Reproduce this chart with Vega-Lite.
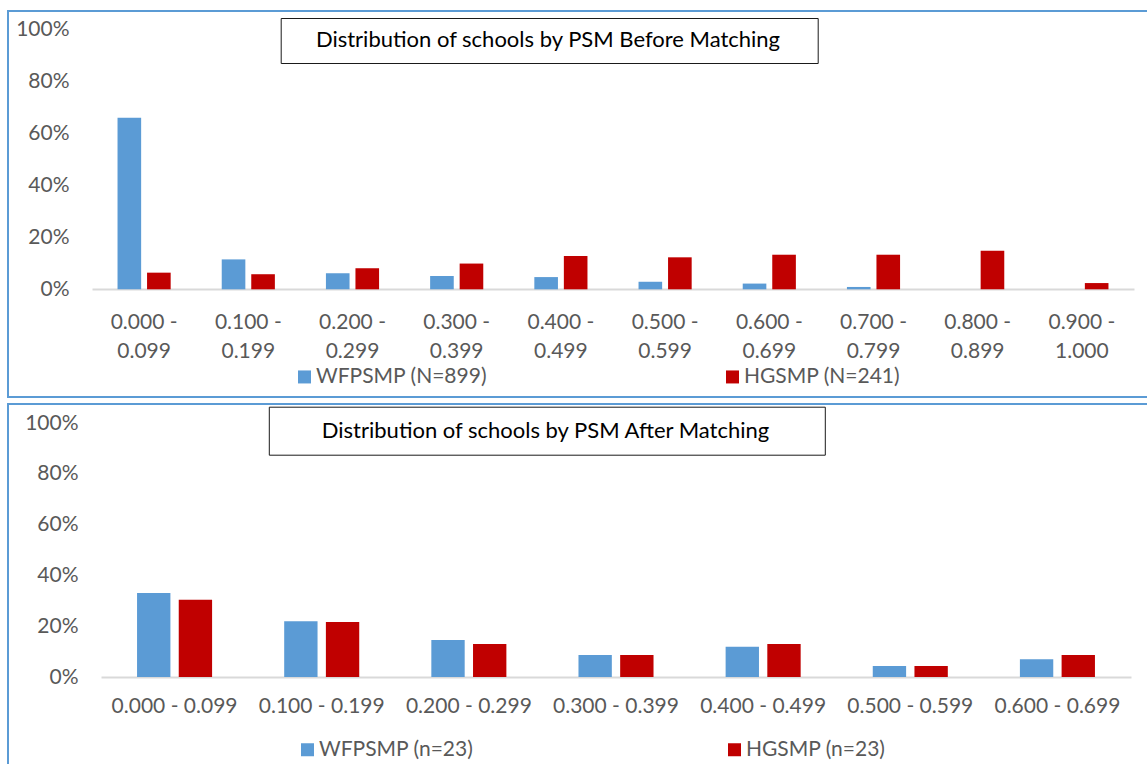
{
  "$schema": "https://vega.github.io/schema/vega-lite/v6.json",
  "padding": {"left": 7, "top": 10, "right": 0, "bottom": 0},
  "background": "white",
  "spacing": 5,
  "config": {
    "font": "Lato",
    "view": {"stroke": "#5b9bd5", "strokeWidth": 2},
    "axis": {"labelFont": "Lato", "labelColor": "#595959", "labelFontSize": 21, "ticks": false, "tickSize": 0, "grid": false, "title": null},
    "legend": {"labelFont": "Lato", "titleFont": "Lato"}
  },
  "resolve": {
    "scale": {"color": "independent", "strokeDash": "independent", "x": "independent", "y": "independent", "xOffset": "independent"},
    "legend": {"color": "independent", "strokeDash": "independent"}
  },
  "datasets": {
    "before": [
      {"range": "0.000 - 0.099", "series": "WFPSMP (N=899)", "share": 0.660},
      {"range": "0.000 - 0.099", "series": "HGSMP (N=241)", "share": 0.064},
      {"range": "0.100 - 0.199", "series": "WFPSMP (N=899)", "share": 0.115},
      {"range": "0.100 - 0.199", "series": "HGSMP (N=241)", "share": 0.058},
      {"range": "0.200 - 0.299", "series": "WFPSMP (N=899)", "share": 0.062},
      {"range": "0.200 - 0.299", "series": "HGSMP (N=241)", "share": 0.081},
      {"range": "0.300 - 0.399", "series": "WFPSMP (N=899)", "share": 0.051},
      {"range": "0.300 - 0.399", "series": "HGSMP (N=241)", "share": 0.099},
      {"range": "0.400 - 0.499", "series": "WFPSMP (N=899)", "share": 0.047},
      {"range": "0.400 - 0.499", "series": "HGSMP (N=241)", "share": 0.128},
      {"range": "0.500 - 0.599", "series": "WFPSMP (N=899)", "share": 0.029},
      {"range": "0.500 - 0.599", "series": "HGSMP (N=241)", "share": 0.123},
      {"range": "0.600 - 0.699", "series": "WFPSMP (N=899)", "share": 0.022},
      {"range": "0.600 - 0.699", "series": "HGSMP (N=241)", "share": 0.133},
      {"range": "0.700 - 0.799", "series": "WFPSMP (N=899)", "share": 0.009},
      {"range": "0.700 - 0.799", "series": "HGSMP (N=241)", "share": 0.133},
      {"range": "0.800 - 0.899", "series": "WFPSMP (N=899)", "share": 0.0},
      {"range": "0.800 - 0.899", "series": "HGSMP (N=241)", "share": 0.148},
      {"range": "0.900 - 1.000", "series": "WFPSMP (N=899)", "share": 0.0},
      {"range": "0.900 - 1.000", "series": "HGSMP (N=241)", "share": 0.024}
    ],
    "after": [
      {"range": "0.000 - 0.099", "series": "WFPSMP (n=23)", "share": 0.331},
      {"range": "0.000 - 0.099", "series": "HGSMP (n=23)", "share": 0.304},
      {"range": "0.100 - 0.199", "series": "WFPSMP (n=23)", "share": 0.219},
      {"range": "0.100 - 0.199", "series": "HGSMP (n=23)", "share": 0.217},
      {"range": "0.200 - 0.299", "series": "WFPSMP (n=23)", "share": 0.146},
      {"range": "0.200 - 0.299", "series": "HGSMP (n=23)", "share": 0.130},
      {"range": "0.300 - 0.399", "series": "WFPSMP (n=23)", "share": 0.087},
      {"range": "0.300 - 0.399", "series": "HGSMP (n=23)", "share": 0.087},
      {"range": "0.400 - 0.499", "series": "WFPSMP (n=23)", "share": 0.119},
      {"range": "0.400 - 0.499", "series": "HGSMP (n=23)", "share": 0.130},
      {"range": "0.500 - 0.599", "series": "WFPSMP (n=23)", "share": 0.043},
      {"range": "0.500 - 0.599", "series": "HGSMP (n=23)", "share": 0.043},
      {"range": "0.600 - 0.699", "series": "WFPSMP (n=23)", "share": 0.070},
      {"range": "0.600 - 0.699", "series": "HGSMP (n=23)", "share": 0.087}
    ]
  },
  "vconcat": [
    {
      "width": 1142,
      "height": 386,
      "data": {"name": "before"},
      "mark": {"type": "bar", "width": {"band": 1}},
      "encoding": {
        "x": {
          "field": "range", "type": "nominal", "sort": null,
          "scale": {"range": [84, 1126], "paddingInner": 0.49, "paddingOuter": 0.245},
          "axis": {"orient": "bottom", "offset": -108, "domainColor": "#d9d9d9", "domainWidth": 2, "labelAngle": 0, "labelPadding": 22, "labelLineHeight": 29, "labelExpr": "[slice(datum.label, 0, 7), slice(datum.label, 8)]"}
        },
        "xOffset": {
          "field": "series", "type": "nominal", "sort": ["WFPSMP (N=899)", "HGSMP (N=241)"],
          "scale": {"paddingInner": 0.2, "paddingOuter": 0}
        },
        "y": {
          "field": "share", "type": "quantitative",
          "scale": {"domain": [0, 1], "range": [278.3, 18.3], "nice": false},
          "axis": {"orient": "left", "offset": -66, "domain": false, "values": [0, 0.2, 0.4, 0.6, 0.8, 1], "format": ".0%", "labelPadding": 5}
        },
        "color": {
          "field": "series", "type": "nominal",
          "scale": {"domain": ["WFPSMP (N=899)", "HGSMP (N=241)"], "range": ["#5b9bd5", "#c00000"]},
          "legend": {"orient": "none", "legendX": 286, "legendY": 355.2, "direction": "horizontal", "title": null, "symbolType": "square", "symbolSize": 169, "symbolStrokeWidth": 0, "labelFontSize": 21, "labelColor": "#595959", "labelOffset": 1, "labelLimit": 400, "columnPadding": 234, "padding": 0}
        },
        "strokeDash": {
          "datum": "Distribution of schools by PSM Before Matching",
          "legend": {"orient": "none", "legendX": 272.7, "legendY": 7, "direction": "vertical", "title": "\u00a0", "titleOrient": "right", "titleFontSize": 1, "titlePadding": 24.8, "labelFontSize": 22, "labelColor": "#000000", "labelLimit": 1000, "labelOffset": 2, "symbolType": "square", "symbolSize": 4, "symbolOpacity": 0, "symbolStrokeWidth": 0, "padding": 11.2, "strokeColor": "#1a1a1a"}
        }
      }
    },
    {
      "width": 1142,
      "height": 363,
      "data": {"name": "after"},
      "mark": {"type": "bar", "width": {"band": 1}},
      "encoding": {
        "x": {
          "field": "range", "type": "nominal", "sort": null,
          "scale": {"range": [93, 1123], "paddingInner": 0.49, "paddingOuter": 0.245},
          "axis": {"orient": "bottom", "offset": -90, "domainColor": "#d9d9d9", "domainWidth": 2, "labelAngle": 0, "labelPadding": 18}
        },
        "xOffset": {
          "field": "series", "type": "nominal", "sort": ["WFPSMP (n=23)", "HGSMP (n=23)"],
          "scale": {"paddingInner": 0.2, "paddingOuter": 0}
        },
        "y": {
          "field": "share", "type": "quantitative",
          "scale": {"domain": [0, 1], "range": [273, 19], "nice": false},
          "axis": {"orient": "left", "offset": -75, "domain": false, "values": [0, 0.2, 0.4, 0.6, 0.8, 1], "format": ".0%", "labelPadding": 5}
        },
        "color": {
          "field": "series", "type": "nominal",
          "scale": {"domain": ["WFPSMP (n=23)", "HGSMP (n=23)"], "range": ["#5b9bd5", "#c00000"]},
          "legend": {"orient": "none", "legendX": 289, "legendY": 335, "direction": "horizontal", "title": null, "symbolType": "square", "symbolSize": 169, "symbolStrokeWidth": 0, "labelFontSize": 21, "labelColor": "#595959", "labelOffset": 1, "labelLimit": 400, "columnPadding": 250, "padding": 0}
        },
        "strokeDash": {
          "datum": "Distribution of schools by PSM After Matching",
          "legend": {"orient": "none", "legendX": 260.8, "legendY": 2.7, "direction": "vertical", "title": "\u00a0", "titleOrient": "right", "titleFontSize": 1, "titlePadding": 40, "labelFontSize": 22, "labelColor": "#000000", "labelLimit": 1000, "labelOffset": 18, "symbolType": "square", "symbolSize": 4, "symbolOpacity": 0, "symbolStrokeWidth": 0, "padding": 13, "strokeColor": "#1a1a1a"}
        }
      }
    }
  ]
}
